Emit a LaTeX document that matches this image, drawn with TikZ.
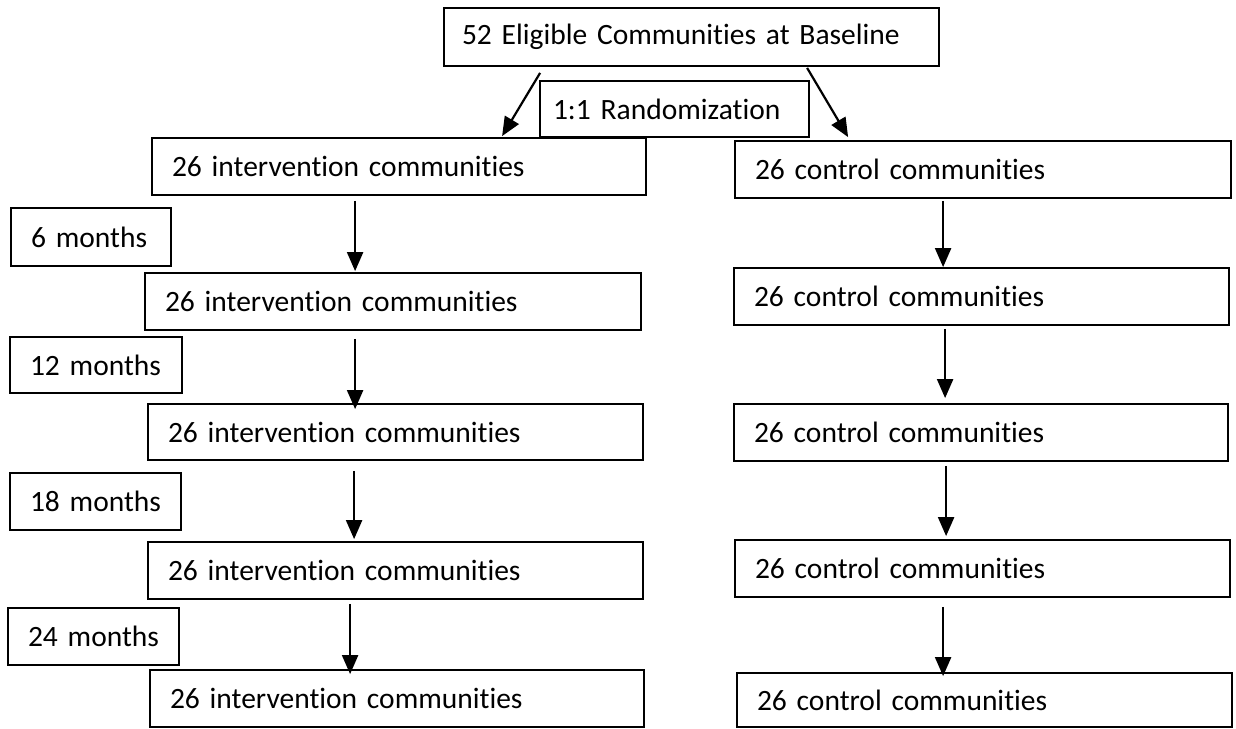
\documentclass[tikz,border=0pt]{standalone}
\usepackage{fontspec}
\setmainfont{Carlito}[Ligatures={NoCommon}, WordSpace=0.7]
\usetikzlibrary{arrows.meta}
\tikzset{
  box/.style={draw=black, line width=1.8pt, inner xsep=20pt, inner ysep=0pt, align=left, anchor=center,
    font=\fontsize{29.5}{35}\selectfont},
  arr/.style={line width=2.2pt, -{Triangle[length=19pt,width=16pt]}}
}
\begin{document}
\begin{tikzpicture}[x=1pt,y=-1pt]
\useasboundingbox (0,0) rectangle (1236,728);
% top
\node[box, inner xsep=18pt, text width=459pt, minimum height=58pt] (top) at (691.5,37) {\mbox{52 Eligible Communities at Baseline}};
\node[box, inner xsep=13pt, text width=243pt, minimum height=56pt] (rand) at (674.5,109) {\mbox{1:1 Randomization}};
% intervention column
\node[box, text width=454pt, minimum height=57pt] (I1) at (399,166.5) {\mbox{26 intervention communities}};
\node[box, text width=456pt, minimum height=57pt] (I2) at (393,301.5) {\mbox{26 intervention communities}};
\node[box, text width=455pt, minimum height=56pt] (I3) at (395.5,432) {\mbox{26 intervention communities}};
\node[box, text width=455pt, minimum height=57pt] (I4) at (395.5,570.5) {\mbox{26 intervention communities}};
\node[box, text width=454pt, minimum height=57pt] (I5) at (397,698.5) {\mbox{26 intervention communities}};
% control column
\node[box, text width=456pt, minimum height=57pt] (C1) at (983,169.5) {\mbox{26 control communities}};
\node[box, text width=455pt, minimum height=57pt] (C2) at (981.5,296.5) {\mbox{26 control communities}};
\node[box, text width=454pt, minimum height=57pt] (C3) at (981,432.5) {\mbox{26 control communities}};
\node[box, text width=455pt, minimum height=57pt] (C4) at (982.5,568.5) {\mbox{26 control communities}};
\node[box, text width=455pt, minimum height=54pt] (C5) at (984.5,700) {\mbox{26 control communities}};
% months
\node[box, text width=120pt, minimum height=58pt] (M6) at (91,237) {\mbox{6 months}};
\node[box, text width=132pt, minimum height=56pt] (M12) at (96,365) {\mbox{12 months}};
\node[box, text width=131pt, minimum height=57pt] (M18) at (95.5,501.5) {\mbox{18 months}};
\node[box, text width=131pt, minimum height=57pt] (M24) at (93.5,636.5) {\mbox{24 months}};
% connectors
\draw[arr] ([xshift=97pt,yshift=-6pt]top.south west) -- ([xshift=351pt,yshift=1pt]I1.north west);
\draw[arr] ([xshift=364pt,yshift=-1pt]top.south west) -- ([xshift=114pt,yshift=3pt]C1.north west);
\draw[arr] ([xshift=204pt,yshift=-5pt]I1.south west) -- ([xshift=211pt,yshift=1pt]I2.north west);
\draw[arr] ([xshift=211pt,yshift=-8pt]I2.south west) -- ([xshift=208pt,yshift=-6pt]I3.north west);
\draw[arr] ([xshift=207pt,yshift=-10pt]I3.south west) -- ([xshift=207pt,yshift=2pt]I4.north west);
\draw[arr] ([xshift=203pt,yshift=-4pt]I4.south west) -- ([xshift=201pt,yshift=-5pt]I5.north west);
\draw[arr] ([xshift=209pt,yshift=-2pt]C1.south west) -- ([xshift=210pt,yshift=0pt]C2.north west);
\draw[arr] ([xshift=212pt,yshift=-3pt]C2.south west) -- ([xshift=212pt,yshift=5pt]C3.north west);
\draw[arr] ([xshift=213pt,yshift=-4pt]C3.south west) -- ([xshift=212pt,yshift=3pt]C4.north west);
\draw[arr] ([xshift=209pt,yshift=-9pt]C4.south west) -- ([xshift=207pt,yshift=-4pt]C5.north west);
\end{tikzpicture}
\end{document}
